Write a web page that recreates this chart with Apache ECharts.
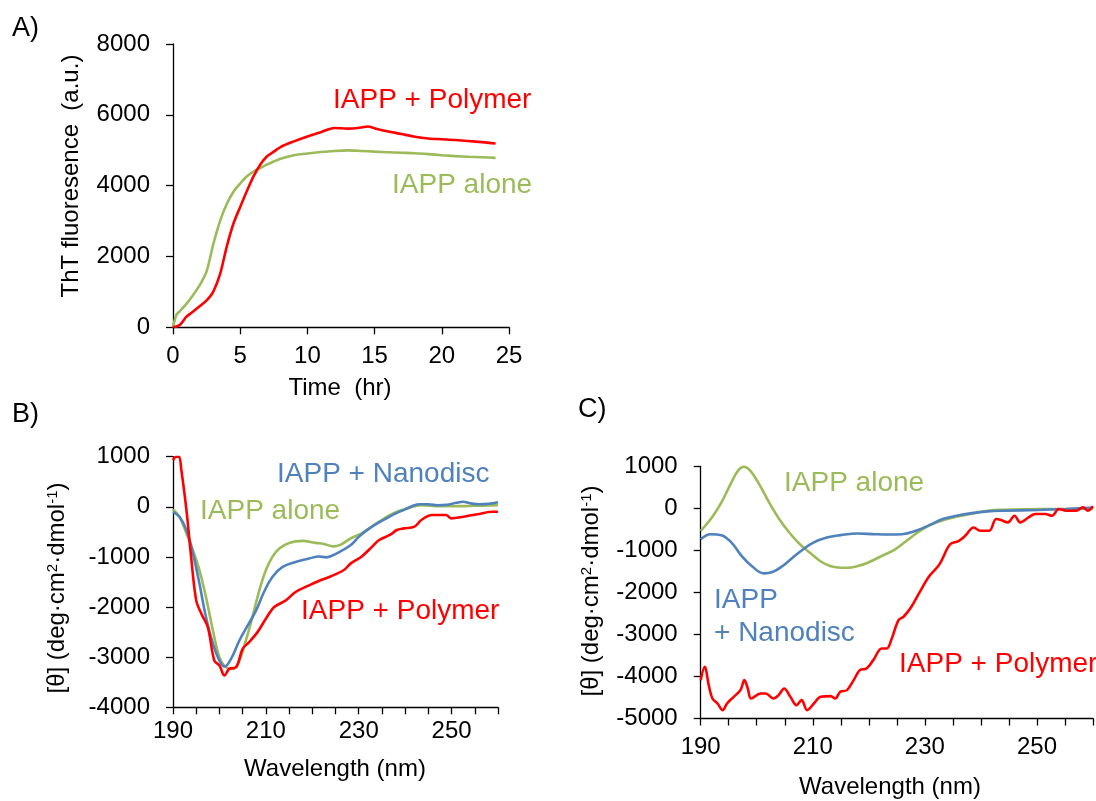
<!DOCTYPE html>
<html>
<head>
<meta charset="utf-8">
<script src="https://cdn.jsdelivr.net/npm/echarts@6/dist/echarts.min.js"></script>
<style>
    body { margin: 0; background: #fff; }
    #chart { width: 1096px; height: 801px; }
</style>
</head>
<body>
<div id="chart"></div>
<script type="text/javascript">
    // A) ThT kinetics
    var timeRed = [0,0.5,1,1.5,2,2.5,3,3.5,4,4.5,5,5.5,6,6.5,7,7.5,8,9,10,11,12,13,14,14.5,15,16,17,18,19,20,21,22,23,24];
    var thtRed = [0,66,300,445,600,760,1010,1500,2280,2930,3400,3850,4270,4600,4830,4960,5090,5250,5390,5510,5630,5610,5640,5670,5620,5530,5460,5380,5330,5310,5290,5260,5230,5190];
    var timeGreen = [0,0.25,0.5,1,1.5,2,2.5,3,3.5,4,4.5,5,5.5,6,6.5,7,7.5,8,9,10,11,12,13,14,15,16,17,18,19,20,21,22,23,24];
    var thtGreen = [0,349,450,660,915,1198,1580,2350,3000,3480,3830,4060,4264,4400,4500,4600,4680,4760,4860,4910,4950,4980,4995,4980,4960,4945,4930,4915,4890,4860,4835,4815,4800,4785];

    // B) CD spectra
    var wlBRed = [190,190.7,191.3,191.8,192.9,193.9,195,196.1,197.5,198.9,200,201.1,202.1,203.6,205,206.4,208.2,210,211.8,214.3,216.4,219.3,221.4,223.8,226.8,228.3,230.6,232.9,234.4,236.7,238.2,239.7,242,243.5,245.8,248.8,249.9,252.6,255.6,258.6,260];
    var cdBRed = [933,1000,1000,733,-67,-1000,-1867,-2133,-2400,-3067,-3167,-3367,-3233,-3200,-2833,-2700,-2500,-2233,-2000,-1867,-1700,-1567,-1480,-1394,-1261,-1128,-995,-795,-662,-562,-463,-430,-396,-263,-164,-164,-230,-197,-150,-97,-97];
    var wlBBlue = [190,191.4,192.9,194.3,195.7,197.1,198.6,200,201.1,202.5,204.3,206.1,207.9,209.6,211.4,213.6,216.4,219.3,221.4,223,225.3,228.3,230,232,234,236,238,240,242,243,245,247,249,251,252.5,254,256,258,260];
    var cdBBlue = [-100,-200,-467,-933,-1533,-2200,-2733,-3067,-3187,-3033,-2667,-2367,-2067,-1700,-1400,-1200,-1100,-1033,-990,-1008,-928,-762,-600,-450,-330,-230,-130,-50,30,50,50,30,40,80,100,70,50,60,90];
    var wlBGreen = [190,191.4,192.9,194.3,195.7,197.1,198.6,200,201.4,202.9,204.3,205.7,207.1,208.6,210,211.4,212.9,215,217.9,220.7,222.5,224.5,226,228.3,230.6,234.4,237.4,240.5,243.5,247.3,251,255,260];
    var cdBGreen = [-53,-200,-533,-867,-1267,-1800,-2467,-3000,-3200,-3233,-3067,-2667,-2200,-1667,-1267,-1000,-833,-720,-680,-720,-740,-790,-760,-629,-529,-297,-130,-33,33,13,13,20,33];

    // C) CD spectra
    var wlCGreen = [190,191.8,193.7,195.5,196.7,197.7,198.8,200.4,202.2,204,205.8,207.7,209.5,211.3,213.1,215,216.2,218,219.8,222.3,224.7,227.1,229.6,232,235.1,238.1,241.2,244.2,250.3,255.2,260];
    var cdCGreen = [-535,-255,144,623,902,990,902,583,144,-255,-575,-854,-1054,-1253,-1373,-1413,-1413,-1373,-1293,-1133,-974,-734,-495,-335,-215,-136,-56,-32,-16,-16,0];
    var wlCBlue = [190,191.8,193.7,195.5,197.3,199.1,201.3,202.8,204.6,206.4,208.3,210.1,212.5,215,218,221.1,223.5,225.9,228.4,230.8,233.2,235.7,238.1,241.2,244.2,250.3,255.2,260];
    var cdCBlue = [-734,-615,-638,-814,-1133,-1373,-1548,-1516,-1373,-1173,-974,-814,-694,-638,-599,-615,-622,-615,-535,-399,-255,-176,-120,-72,-56,-40,-16,16];
    var wlCRed = [190,190.7,191.5,192.1,193,193.9,194.7,195.9,197.1,197.8,198.4,199,200.7,201.6,203,203.9,204.9,206,207.1,208,209,210.2,211.4,213.2,214,214.9,216.1,217.3,218.4,219.6,220.8,222.3,223.2,224.1,225.3,226.2,227.6,229,230.8,232.6,234.5,236,237.2,238.7,239.9,241.5,242.7,243.6,244.8,246,247,248.5,249.7,251.5,252.7,253.9,255.2,257,258.2,259.1,260];
    var cdCRed = [-4087,-3770,-4246,-4524,-4643,-4802,-4643,-4484,-4325,-4087,-4286,-4524,-4405,-4405,-4524,-4444,-4286,-4484,-4683,-4563,-4802,-4643,-4484,-4468,-4524,-4365,-4325,-4087,-3849,-3810,-3611,-3333,-3333,-3095,-2659,-2579,-2341,-2011,-1612,-1333,-854,-780,-654,-455,-535,-535,-255,-280,-335,-176,-335,-215,-136,-136,-176,-16,-56,-56,24,-56,48];

    var RED = '#ff0000', GREEN = '#9bbb59', BLUE = '#4f81bd';
    var FONT = '"Liberation Sans", Arial, sans-serif';

    function pairs(xs, ys) {
        var out = [];
        for (var i = 0; i < xs.length; i++) out.push([xs[i], ys[i]]);
        return out;
    }

    function xAxisOf(grid, min, max, labelStep, margin) {
        return {
            type: 'value', gridIndex: grid, min: min, max: max, interval: 5,
            splitLine: {show: false},
            axisLine: {onZero: false, lineStyle: {color: '#000', width: 1.3}},
            axisTick: {length: 7, lineStyle: {color: '#000', width: 1.3}},
            axisLabel: {
                margin: margin, color: '#000', fontSize: 24, fontFamily: FONT,
                formatter: function (v) { return (v - min) % labelStep === 0 ? String(v) : ''; }
            }
        };
    }

    function yAxisOf(grid, min, max, interval) {
        return {
            type: 'value', gridIndex: grid, min: min, max: max, interval: interval,
            splitLine: {show: false},
            axisLine: {show: true, onZero: false, lineStyle: {color: '#000', width: 1.3}},
            axisTick: {show: true, length: 7, lineStyle: {color: '#000', width: 1.3}},
            axisLabel: {margin: 23, color: '#000', fontSize: 24, fontFamily: FONT,
                formatter: function (v) { return String(v); }}
        };
    }

    function line(xi, data, color, smooth) {
        return {
            type: 'line', xAxisIndex: xi, yAxisIndex: xi, data: data,
            showSymbol: false, smooth: smooth, clip: true,
            lineStyle: {color: color, width: 2.6}
        };
    }

    function label(text, x, y, color, size, align) {
        return {
            type: 'text', x: x, y: y,
            style: {text: text, fill: color, fontSize: size || 28, fontFamily: FONT,
                align: align || 'left', verticalAlign: 'middle'}
        };
    }

    var cdRich = {
        n: {fontSize: 24, lineHeight: 24, fontFamily: FONT, color: '#000'},
        s: {fontSize: 15, lineHeight: 18, verticalAlign: 'top', fontFamily: FONT, color: '#000'}
    };
    var cdTitle = '{n|[θ] (deg·cm}{s|2}{n|·dmol}{s|-1}{n|)}';

    var myChart = echarts.init(document.getElementById('chart'));
    var option = {
        animation: false,
        grid: [
            {left: 173, top: 44, width: 336, height: 283.3},
            {left: 173, top: 456.7, width: 325, height: 250.6},
            {left: 700.7, top: 466.3, width: 393.6, height: 252.2}
        ],
        xAxis: [
            xAxisOf(0, 0, 25, 5, 17),
            xAxisOf(1, 190, 260, 20, 12),
            xAxisOf(2, 190, 260, 20, 17)
        ],
        yAxis: [
            yAxisOf(0, 0, 8000, 2000),
            yAxisOf(1, -4000, 1000, 1000),
            yAxisOf(2, -5000, 1000, 1000)
        ],
        series: [
            line(0, pairs(timeGreen, thtGreen), GREEN, 0.3),
            line(0, pairs(timeRed, thtRed), RED, 0.3),
            line(1, pairs(wlBGreen, cdBGreen), GREEN, 0.4),
            line(1, pairs(wlBBlue, cdBBlue), BLUE, 0.4),
            line(1, pairs(wlBRed, cdBRed), RED, 0.35),
            line(2, pairs(wlCGreen, cdCGreen), GREEN, 0.4),
            line(2, pairs(wlCBlue, cdCBlue), BLUE, 0.4),
            line(2, pairs(wlCRed, cdCRed), RED, 0.35)
        ],
        graphic: [
            label('A)', 12, 29, '#000', 27),
            label('B)', 12, 415, '#000', 27),
            label('C)', 578, 410, '#000', 27),

            label('IAPP + Polymer', 333, 100, RED),
            label('IAPP alone', 392, 185, GREEN),
            label('Time  (hr)', 340, 388, '#000', 24, 'center'),
            {type: 'text', x: 71, y: 176, rotation: Math.PI / 2,
                style: {text: 'ThT fluoresence  (a.u.)', fill: '#000', fontSize: 24, fontFamily: FONT,
                    align: 'center', verticalAlign: 'middle'}},

            label('IAPP + Nanodisc', 277, 474, BLUE),
            label('IAPP alone', 200, 511, GREEN),
            label('IAPP + Polymer', 301, 611, RED),
            label('Wavelength (nm)', 335, 769, '#000', 24, 'center'),
            {type: 'text', x: 57, y: 588, rotation: Math.PI / 2,
                style: {text: cdTitle, rich: cdRich, align: 'center', verticalAlign: 'middle'}},

            label('IAPP alone', 784, 483, GREEN),
            label('IAPP', 714, 600, BLUE),
            label('+ Nanodisc', 714, 633, BLUE),
            label('IAPP + Polymer', 899, 664, RED),
            label('Wavelength (nm)', 890, 787, '#000', 24, 'center'),
            {type: 'text', x: 591, y: 591, rotation: Math.PI / 2,
                style: {text: cdTitle, rich: cdRich, align: 'center', verticalAlign: 'middle'}}
        ]
    };
    myChart.setOption(option);
</script>
</body>
</html>
